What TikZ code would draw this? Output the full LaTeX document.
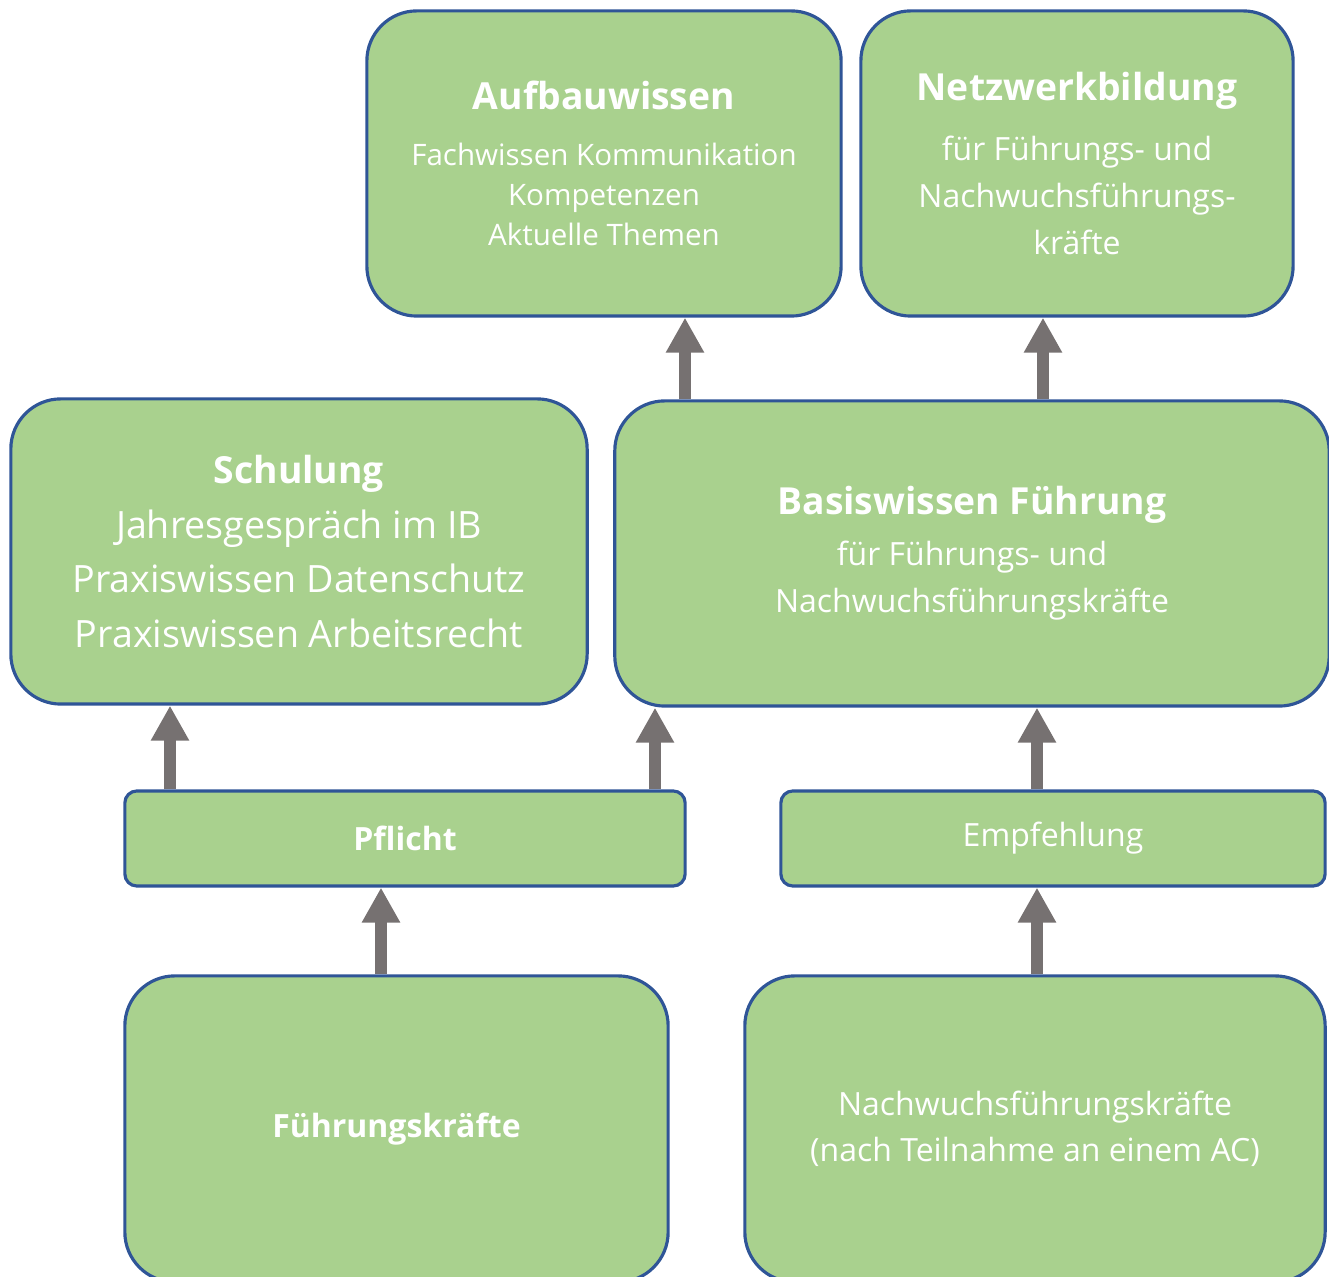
\documentclass[tikz,border=0pt]{standalone}
\usepackage{fontspec}
\setmainfont{Open Sans}
\usetikzlibrary{arrows.meta}

\definecolor{boxgreen}{RGB}{169,209,142}
\definecolor{boxblue}{RGB}{47,85,151}
\definecolor{arrowgray}{RGB}{118,113,113}

\newcommand{\titlefont}{\fontsize{10.6}{13}\selectfont\bfseries}

\begin{document}
\begin{tikzpicture}[x=0.01cm, y=-0.01cm,
    bigbox/.style={draw=boxblue, line width=0.9pt, fill=boxgreen, text=white,
      rounded corners=0.5cm, inner sep=0pt, align=center},
    smallbox/.style={draw=boxblue, line width=0.9pt, fill=boxgreen, text=white,
      rounded corners=0.12cm, inner sep=0pt, align=center,
      font=\fontsize{9.1}{13}\selectfont},
    uparrow/.style={draw=arrowgray, line width=0.11cm,
      -{Triangle[width=0.36cm, length=0.35cm]}}]
  \useasboundingbox (0, 0) rectangle (1329, 1277);

  \node[bigbox, minimum width=4.74cm, minimum height=3.05cm,
    font=\fontsize{8.4}{11.4}\selectfont] (aufbau) at (604, 163.5)
    {{\titlefont Aufbauwissen}\\[4.5pt]
     Fachwissen Kommunikation\\
     Kompetenzen\\
     Aktuelle Themen};
  \node[bigbox, minimum width=4.32cm, minimum height=3.05cm,
    font=\fontsize{9.1}{13.4}\selectfont] (netz) at (1077, 163.5)
    {{\titlefont Netzwerkbildung}\\[3.7pt]
     für Führungs- und\\
     Nachwuchsführungs-\\
     kräfte};

  \node[bigbox, minimum width=5.76cm, minimum height=3.05cm,
    font=\fontsize{10.7}{15.6}\selectfont] (schulung) at (299, 551.5)
    {{\titlefont Schulung}\\
     Jahresgespräch im IB\\
     Praxiswissen Datenschutz\\
     Praxiswissen Arbeitsrecht};
  \node[bigbox, minimum width=7.14cm, minimum height=3.05cm,
    font=\fontsize{9.1}{13.4}\selectfont] (basis) at (972, 553.5)
    {{\titlefont Basiswissen Führung}\\[1.1pt]
     für Führungs- und\\
     Nachwuchsführungskräfte};

  \node[smallbox, minimum width=5.6cm, minimum height=0.95cm] (pflicht) at (405, 838.5)
    {\bfseries Pflicht};
  \node[smallbox, minimum width=5.44cm, minimum height=0.95cm] (empfehlung) at (1053, 838.5)
    {Empfehlung};

  \node[bigbox, minimum width=5.43cm, minimum height=3.06cm,
    font=\fontsize{9.1}{13.1}\selectfont] (fk) at (396.5, 1129)
    {\bfseries Führungskräfte};
  \node[bigbox, minimum width=5.8cm, minimum height=3.06cm,
    font=\fontsize{9.1}{13.1}\selectfont] (nfk) at (1035, 1129)
    {Nachwuchsführungskräfte\\(nach Teilnahme an einem AC)};

  \draw[uparrow] (basis.north -| 685, 0) -- (aufbau.south -| 685, 0);
  \draw[uparrow] (basis.north -| 1043, 0) -- (netz.south -| 1043, 0);

  \draw[uparrow] (pflicht.north -| 170, 0) -- (schulung.south -| 170, 0);
  \draw[uparrow] (pflicht.north -| 655, 0) -- (basis.south -| 655, 0);
  \draw[uparrow] (empfehlung.north -| 1037, 0) -- (basis.south -| 1037, 0);

  \draw[uparrow] (fk.north -| 381, 0) -- (pflicht.south -| 381, 0);
  \draw[uparrow] (nfk.north -| 1037, 0) -- (empfehlung.south -| 1037, 0);

\end{tikzpicture}
\end{document}
